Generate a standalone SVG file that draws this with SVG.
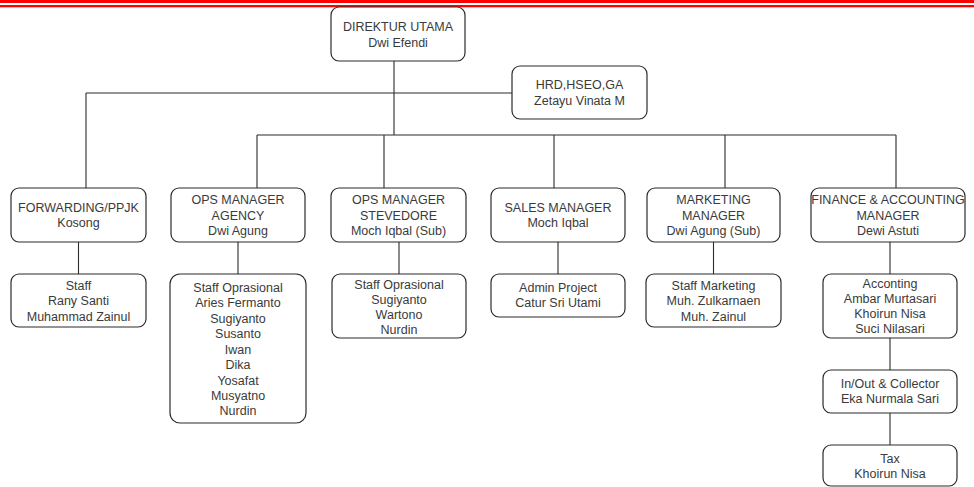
<svg xmlns="http://www.w3.org/2000/svg" width="974" height="487" viewBox="0 0 974 487">
<style>
.box{fill:#fff;stroke:#2b2b2b;stroke-width:1.2}
.t{font-family:"Liberation Sans",Arial,sans-serif;font-size:12.5px;fill:#3a3a3a;text-anchor:middle}
.c{fill:none;stroke:#2b2b2b;stroke-width:1.1}
</style>
<rect x="0" y="0" width="974" height="487" fill="#fff"/>
<rect x="0" y="0" width="974" height="3" fill="#ff0000"/>
<rect x="0" y="5" width="974" height="2.3" fill="#ff0000"/>
<g id="connectors">
<path class="c" d="M394 61V135M86 93H512M86 93V188M257 135H896M257 135V188M384 135V188M554 135V188M725 135V188M896 135V188"/>
<path class="c" d="M78.5 242V274M238 242V274M399 242V274M558 242V274M713.5 242V274M890 242V274M890 338V370M890 413V445"/>
</g>
<g id="direktur"><rect class="box" x="331" y="7" width="134" height="54" rx="8"/>
<text class="t" x="398" y="30.5">DIREKTUR UTAMA</text><text class="t" x="398" y="46.5">Dwi Efendi</text></g>
<g id="hrd"><rect class="box" x="512" y="66" width="135" height="53" rx="8"/>
<text class="t" x="579.5" y="89">HRD,HSEO,GA</text><text class="t" x="579.5" y="104.5">Zetayu Vinata M</text></g>
<g id="forwarding"><rect class="box" x="11" y="188" width="135" height="54" rx="8"/>
<text class="t" x="78.5" y="211.5">FORWARDING/PPJK</text><text class="t" x="78.5" y="227">Kosong</text></g>
<g id="ops-agency"><rect class="box" x="171" y="188" width="134" height="54" rx="8"/>
<text class="t" x="238" y="204">OPS MANAGER</text><text class="t" x="238" y="219.5">AGENCY</text><text class="t" x="238" y="235">Dwi Agung</text></g>
<g id="ops-stevedore"><rect class="box" x="331" y="188" width="135" height="54" rx="8"/>
<text class="t" x="398.5" y="204">OPS MANAGER</text><text class="t" x="398.5" y="219.5">STEVEDORE</text><text class="t" x="398.5" y="235">Moch Iqbal (Sub)</text></g>
<g id="sales"><rect class="box" x="491" y="188" width="134" height="54" rx="8"/>
<text class="t" x="558" y="211.5">SALES MANAGER</text><text class="t" x="558" y="227">Moch Iqbal</text></g>
<g id="marketing"><rect class="box" x="647" y="188" width="133" height="54" rx="8"/>
<text class="t" x="713.5" y="204">MARKETING</text><text class="t" x="713.5" y="219.5">MANAGER</text><text class="t" x="713.5" y="235">Dwi Agung (Sub)</text></g>
<g id="finance"><rect class="box" x="811" y="188" width="154" height="54" rx="8"/>
<text class="t" x="888" y="204">FINANCE &amp; ACCOUNTING</text><text class="t" x="888" y="219.5">MANAGER</text><text class="t" x="888" y="235">Dewi Astuti</text></g>
<g id="fwd-staff"><rect class="box" x="11" y="274" width="135" height="53" rx="8"/>
<text class="t" x="78.5" y="289.5">Staff</text><text class="t" x="78.5" y="305">Rany Santi</text><text class="t" x="78.5" y="320.5">Muhammad Zainul</text></g>
<g id="agency-staff"><rect class="box" x="170" y="274" width="136" height="149" rx="10"/>
<text class="t" x="238" y="291.5">Staff Oprasional</text><text class="t" x="238" y="307">Aries Fermanto</text><text class="t" x="238" y="322.5">Sugiyanto</text><text class="t" x="238" y="338">Susanto</text><text class="t" x="238" y="353.5">Iwan</text><text class="t" x="238" y="369">Dika</text><text class="t" x="238" y="384.5">Yosafat</text><text class="t" x="238" y="400">Musyatno</text><text class="t" x="238" y="415">Nurdin</text></g>
<g id="stevedore-staff"><rect class="box" x="332" y="274" width="134" height="64" rx="8"/>
<text class="t" x="399" y="288.5">Staff Oprasional</text><text class="t" x="399" y="303.5">Sugiyanto</text><text class="t" x="399" y="318.5">Wartono</text><text class="t" x="399" y="333.5">Nurdin</text></g>
<g id="sales-staff"><rect class="box" x="491" y="274" width="134" height="43" rx="8"/>
<text class="t" x="558" y="291.5">Admin Project</text><text class="t" x="558" y="307">Catur Sri Utami</text></g>
<g id="marketing-staff"><rect class="box" x="646" y="274" width="135" height="53" rx="8"/>
<text class="t" x="713.5" y="289.5">Staff Marketing</text><text class="t" x="713.5" y="305">Muh. Zulkarnaen</text><text class="t" x="713.5" y="320.5">Muh. Zainul</text></g>
<g id="accounting"><rect class="box" x="823" y="274" width="134" height="64" rx="8"/>
<text class="t" x="890" y="288">Acconting</text><text class="t" x="890" y="303">Ambar Murtasari</text><text class="t" x="890" y="318">Khoirun Nisa</text><text class="t" x="890" y="333">Suci Nilasari</text></g>
<g id="inout"><rect class="box" x="823" y="370" width="134" height="43" rx="8"/>
<text class="t" x="890" y="388">In/Out &amp; Collector</text><text class="t" x="890" y="403">Eka Nurmala Sari</text></g>
<g id="tax"><rect class="box" x="823" y="445" width="134" height="41" rx="8"/>
<text class="t" x="890" y="463">Tax</text><text class="t" x="890" y="478">Khoirun Nisa</text></g>
</svg>
